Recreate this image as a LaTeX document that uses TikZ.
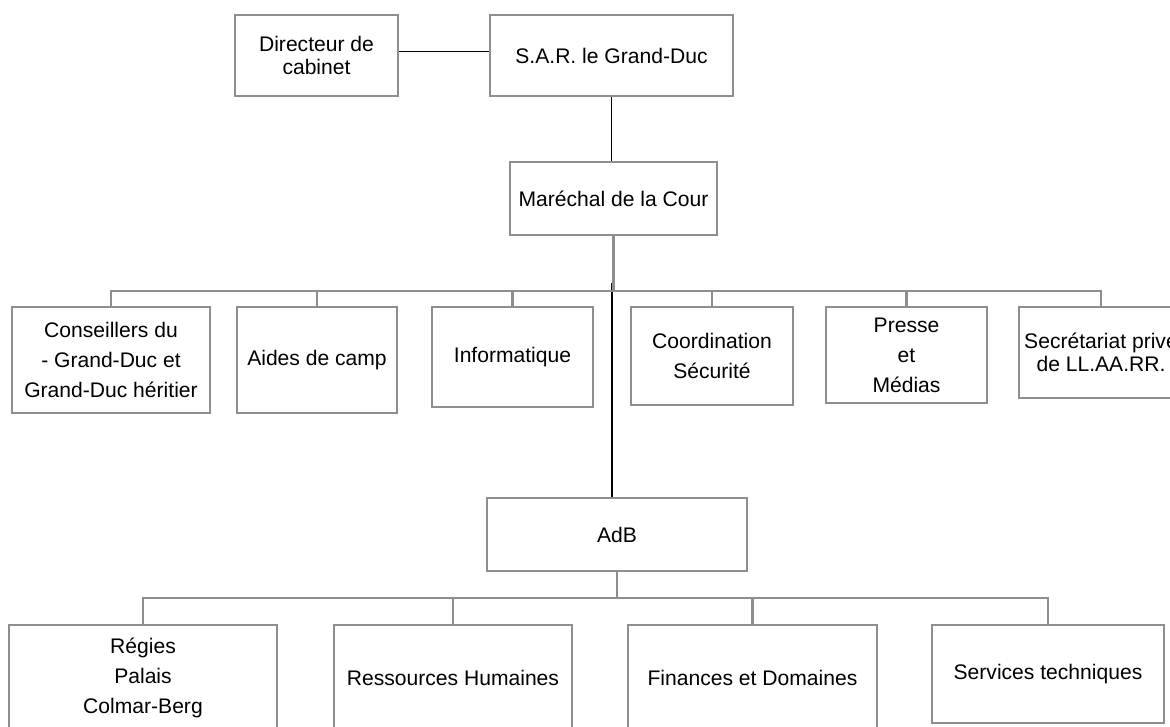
\documentclass[tikz,border=0pt]{standalone}
\usepackage{fontspec}
\setmainfont{Liberation Sans}
\usepackage{xcolor}
\usepackage{tikz}

\definecolor{boxgray}{RGB}{142,142,142}
\tikzset{
  orgbox/.style={draw=boxgray, line width=1.2pt, rectangle, inner sep=0pt,
    align=center, font=\fontsize{12}{17}\selectfont},
  tightbox/.style={orgbox, font=\fontsize{12}{13}\selectfont},
  boxdim/.style 2 args={minimum width=#1*0.2mm, minimum height=#2*0.2mm},
  bus/.style={draw=boxgray, line width=1.2pt},
  link/.style={black, line width=0.6pt}
}

\begin{document}
\begin{tikzpicture}[x=0.2mm, y=-0.2mm]
  \clip (0,0) rectangle (1170,727);

  % top
  \node[tightbox, boxdim={163}{81}] (dir) at (316.5,55.5) {Directeur de\\cabinet};
  \node[orgbox, boxdim={243}{81}] (sar) at (611.5,55.5) {S.A.R. le Grand-Duc};
  \node[orgbox, boxdim={207}{73}] (mar) at (613.5,198.5) {Maréchal de la Cour};

  % services of the Cour
  \node[orgbox, boxdim={198}{106}] (cons) at (111,360) {Conseillers du\\- Grand-Duc et\\Grand-Duc héritier};
  \node[orgbox, boxdim={160}{106}] (aides) at (317,360) {Aides de camp};
  \node[orgbox, boxdim={161}{100}] (info) at (512.5,357) {Informatique};
  \node[orgbox, boxdim={162}{98}] (coord) at (712,356) {Coordination\\Sécurité};
  \node[orgbox, boxdim={161}{96}] (presse) at (906.5,355) {Presse\\et\\Médias};
  \node[tightbox, boxdim={164}{91}] (secr) at (1101,352.5) {Secrétariat privé\\de LL.AA.RR.};

  % AdB
  \node[orgbox, boxdim={260}{73}] (adb) at (617,534.5) {AdB};
  \node[orgbox, boxdim={268}{106}] (regies) at (143,678) {Régies\\Palais\\Colmar-Berg};
  \node[orgbox, boxdim={238}{106}] (rh) at (453,678) {Ressources Humaines};
  \node[orgbox, boxdim={249}{106}] (fin) at (752.5,678) {Finances et Domaines};
  \node[orgbox, boxdim={232}{98}] (serv) at (1048,674) {Services techniques};

  % -
  \draw[link] ([yshift=2.5pt]dir.east) -- ([yshift=2.5pt]sar.west);
  % |
  \draw[link] (sar.south) -- (sar.south |- mar.north);
  \coordinate (split) at (612,283);
  \draw[link] (split) -- (split |- adb.north);

  % bus
  \foreach \n in {cons,aides,info,coord,presse,secr}
    \draw[bus] (mar.south) -- ++(0,55) -| (\n.north);
  \foreach \n in {regies,rh,fin,serv}
    \draw[bus] (adb.south) -- ++(0,25.5) -| (\n.north);
\end{tikzpicture}
\end{document}
